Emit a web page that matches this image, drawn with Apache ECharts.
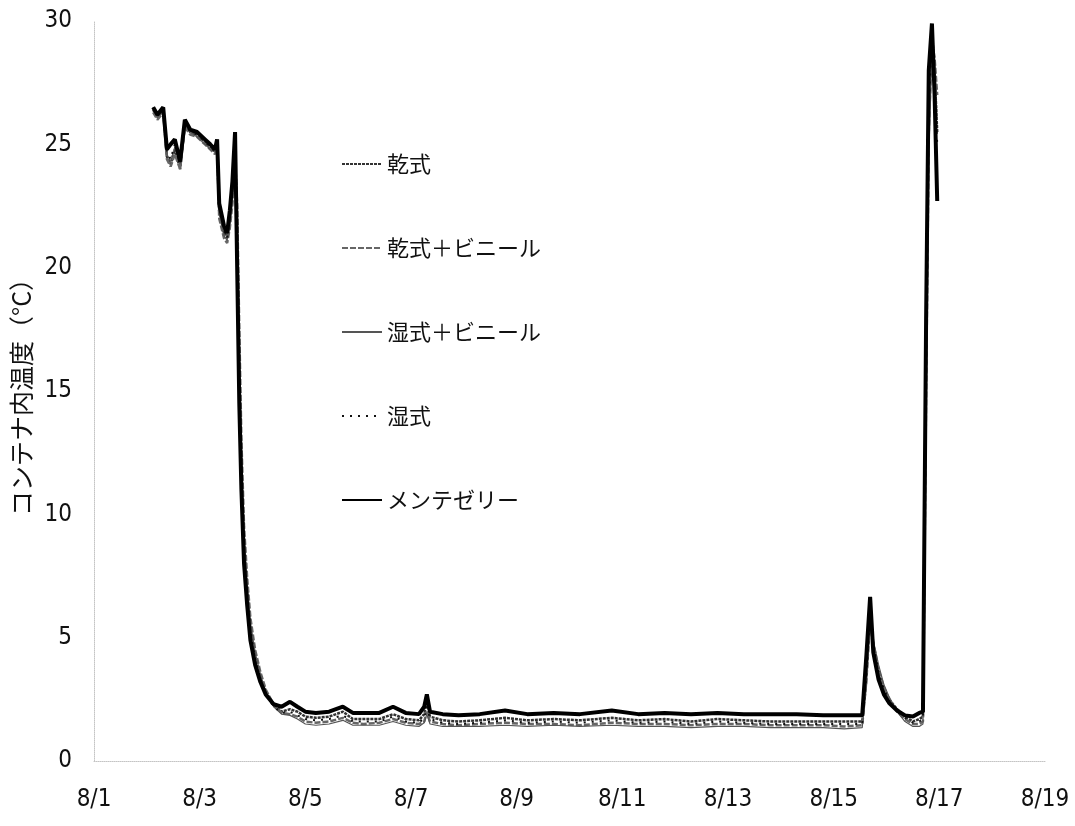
<!DOCTYPE html>
<html>
<head>
    <meta charset="utf-8">
    <title>コンテナ内温度</title>
    <script src="https://cdn.jsdelivr.net/npm/echarts@6/dist/echarts.min.js"></script>
    <style>
        html, body { margin: 0; padding: 0; background: #ffffff; }
        #main { width: 1075px; height: 826px; }
    </style>
</head>
<body>
<div id="main"></div>
<script>
// 経過日数 (8/1 = 0)
var days = [
    1.12, 1.20, 1.31, 1.38, 1.45, 1.53, 1.63, 1.72, 1.82, 1.95,
    2.10, 2.20, 2.29, 2.33, 2.37, 2.46, 2.52, 2.57, 2.62, 2.67,
    2.71, 2.75, 2.79, 2.84, 2.90, 2.96, 3.05, 3.15, 3.25, 3.40,
    3.55, 3.71, 3.85, 4.00, 4.20, 4.45, 4.71, 4.90, 5.10, 5.40,
    5.66, 5.90, 6.15, 6.25, 6.30, 6.36, 6.60, 6.90, 7.30, 7.78,
    8.20, 8.70, 9.20, 9.80, 10.30, 10.80, 11.30, 11.80, 12.30, 12.80,
    13.30, 13.80, 14.20, 14.54, 14.62, 14.69, 14.75, 14.85, 14.95, 15.05,
    15.20, 15.35, 15.50, 15.62, 15.69, 15.75, 15.80, 15.86, 15.91, 15.96
];

var kanshiki = [
    26.4, 26.1, 26.4, 24.5, 24.2, 24.8, 24.0, 25.8, 25.5, 25.4,
    25.1, 24.9, 24.7, 25.0, 22.3, 21.4, 21.2, 21.9, 23.0, 24.8,
    21.5, 16.0, 12.0, 8.8, 6.9, 5.4, 4.2, 3.4, 2.8, 2.3,
    2.0, 2.1, 2.0, 1.8, 1.75, 1.8, 2.0, 1.7, 1.7, 1.7,
    1.9, 1.7, 1.65, 1.9, 2.4, 1.8, 1.65, 1.6, 1.65, 1.75,
    1.65, 1.7, 1.65, 1.75, 1.65, 1.7, 1.6, 1.7, 1.65, 1.6,
    1.6, 1.6, 1.6, 1.6, 3.8, 6.2, 4.6, 3.5, 2.9, 2.5,
    2.1, 1.8, 1.6, 1.7, 1.8, 17.0, 27.0, 29.6, 28.0, 25.5
];

var kanshikiVinyl = [
    26.3, 26.0, 26.3, 24.4, 24.1, 24.6, 24.0, 25.7, 25.4, 25.3,
    25.0, 24.8, 24.6, 24.9, 22.0, 21.2, 21.0, 21.6, 22.6, 24.5,
    22.5, 17.5, 13.0, 9.5, 7.4, 5.8, 4.5, 3.6, 2.9, 2.3,
    1.95, 1.9, 1.8, 1.6, 1.55, 1.6, 1.75, 1.55, 1.5, 1.55,
    1.7, 1.55, 1.5, 1.6, 2.0, 1.6, 1.5, 1.45, 1.5, 1.55,
    1.5, 1.5, 1.45, 1.55, 1.5, 1.5, 1.45, 1.5, 1.5, 1.45,
    1.45, 1.45, 1.4, 1.45, 3.3, 5.8, 4.8, 3.7, 3.0, 2.5,
    2.0, 1.7, 1.5, 1.5, 1.6, 15.0, 25.5, 29.2, 28.5, 27.0
];

var shisshikiVinyl = [
    26.4, 26.1, 26.3, 24.6, 24.3, 24.9, 24.2, 25.8, 25.5, 25.3,
    25.0, 24.8, 24.7, 25.0, 22.2, 21.3, 21.1, 21.8, 22.8, 24.6,
    22.0, 17.0, 12.5, 9.2, 7.2, 5.6, 4.4, 3.5, 2.8, 2.2,
    1.9, 1.85, 1.7, 1.5, 1.45, 1.5, 1.65, 1.45, 1.45, 1.45,
    1.6, 1.45, 1.4, 1.55, 1.9, 1.5, 1.4, 1.4, 1.4, 1.45,
    1.4, 1.45, 1.4, 1.45, 1.4, 1.4, 1.35, 1.4, 1.4, 1.35,
    1.35, 1.35, 1.3, 1.35, 3.0, 5.5, 4.9, 3.9, 3.1, 2.6,
    2.0, 1.6, 1.4, 1.4, 1.5, 14.0, 24.5, 28.8, 28.0, 26.0
];

var shisshiki = [
    26.5, 26.2, 26.4, 24.7, 24.4, 25.0, 24.2, 25.9, 25.5, 25.4,
    25.1, 24.9, 24.7, 25.1, 22.4, 21.5, 21.2, 22.0, 23.2, 25.0,
    21.0, 15.5, 11.8, 8.6, 6.8, 5.3, 4.1, 3.3, 2.7, 2.2,
    1.95, 2.0, 1.85, 1.7, 1.65, 1.7, 1.85, 1.6, 1.6, 1.6,
    1.8, 1.6, 1.55, 1.75, 2.2, 1.7, 1.55, 1.5, 1.55, 1.65,
    1.55, 1.6, 1.55, 1.65, 1.55, 1.6, 1.5, 1.6, 1.55, 1.5,
    1.5, 1.5, 1.5, 1.5, 3.5, 6.0, 4.7, 3.6, 2.9, 2.45,
    2.0, 1.75, 1.55, 1.6, 1.7, 16.0, 26.5, 29.4, 27.5, 25.0
];

var mentezeri = [
    26.5, 26.2, 26.5, 24.8, 25.0, 25.2, 24.3, 26.0, 25.6, 25.5,
    25.2, 25.0, 24.8, 25.2, 22.6, 21.7, 21.4, 22.3, 23.5, 25.5,
    20.0, 14.5, 11.0, 8.0, 6.3, 4.9, 3.9, 3.2, 2.7, 2.3,
    2.2, 2.4, 2.2, 2.0, 1.95, 2.0, 2.2, 1.95, 1.95, 1.95,
    2.2, 1.95, 1.9, 2.2, 2.7, 2.0, 1.9, 1.85, 1.9, 2.05,
    1.9, 1.95, 1.9, 2.05, 1.9, 1.95, 1.9, 1.95, 1.9, 1.9,
    1.9, 1.85, 1.85, 1.85, 4.3, 6.65, 4.4, 3.3, 2.7, 2.35,
    2.05, 1.85, 1.8, 1.95, 2.0, 18.0, 28.0, 29.9, 27.0, 22.7
];

var seriesNames = ['乾式', '乾式＋ビニール', '湿式＋ビニール', '湿式', 'メンテゼリー'];

function pairs(vals) {
    return days.map(function (d, i) { return [d, vals[i]]; });
}

var tickFont = "'Liberation Sans Narrow', 'DejaVu Sans Condensed', 'Noto Sans CJK JP', sans-serif";

var chart = echarts.init(document.getElementById('main'));

var option = {
    backgroundColor: '#ffffff',
    animation: false,
    grid: {
        left: 94,
        right: 30,
        top: 21,
        bottom: 65
    },
    legend: {
        orient: 'vertical',
        left: 336,
        top: 148,
        itemGap: 62,
        itemWidth: 40,
        itemHeight: 22,
        data: seriesNames,
        itemStyle: { opacity: 0 },
        textStyle: {
            fontFamily: 'Noto Sans CJK JP',
            fontSize: 22,
            color: '#111'
        }
    },
    xAxis: {
        type: 'value',
        min: 0,
        max: 18,
        interval: 2,
        axisLine: { show: true, lineStyle: { color: '#c4c4c4', type: 'dotted', width: 1 } },
        axisTick: { show: false },
        splitLine: { show: false },
        axisLabel: {
            margin: 27,
            fontSize: 24,
            color: '#111',
            fontFamily: tickFont,
            formatter: function (v) { return '8/' + (v + 1); }
        }
    },
    yAxis: {
        type: 'value',
        min: 0,
        max: 30,
        interval: 5,
        name: 'コンテナ内温度（°C）',
        nameLocation: 'middle',
        nameGap: 58,
        nameTextStyle: {
            fontFamily: 'Noto Sans CJK JP',
            fontSize: 25,
            color: '#111'
        },
        axisLine: { show: true, lineStyle: { color: '#c4c4c4', type: 'dotted', width: 1 } },
        axisTick: { show: false },
        splitLine: { show: false },
        axisLabel: {
            margin: 22,
            fontSize: 24,
            color: '#111',
            fontFamily: tickFont
        }
    },
    series: [
        {
            name: '乾式',
            type: 'line',
            symbol: 'none',
            data: pairs(kanshiki),
            lineStyle: { color: '#333', width: 2.5, type: [3, 1] },
            itemStyle: { color: '#333' }
        },
        {
            name: '乾式＋ビニール',
            type: 'line',
            symbol: 'none',
            data: pairs(kanshikiVinyl),
            lineStyle: { color: '#666', width: 2.5, type: [6, 2] },
            itemStyle: { color: '#666' }
        },
        {
            name: '湿式＋ビニール',
            type: 'line',
            symbol: 'none',
            data: pairs(shisshikiVinyl),
            lineStyle: { color: '#555', width: 1.2, type: 'solid' },
            itemStyle: { color: '#555' }
        },
        {
            name: '湿式',
            type: 'line',
            symbol: 'none',
            data: pairs(shisshiki),
            lineStyle: { color: '#111', width: 2, type: [2, 6] },
            itemStyle: { color: '#111' }
        },
        {
            name: 'メンテゼリー',
            type: 'line',
            symbol: 'none',
            data: pairs(mentezeri),
            lineStyle: { color: '#000', width: 4 },
            itemStyle: { color: '#000' }
        }
    ]
};

chart.setOption(option);
</script>
</body>
</html>
